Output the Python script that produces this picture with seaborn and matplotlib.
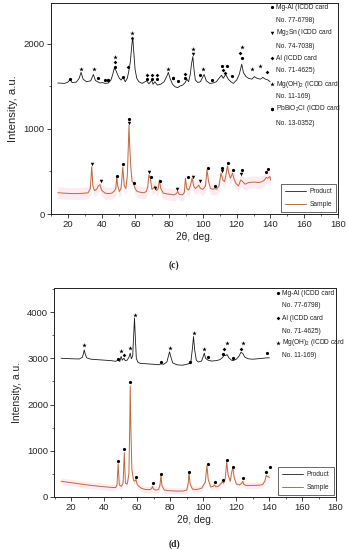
import numpy as np
import pandas as pd
import seaborn as sns
import matplotlib.pyplot as plt
from matplotlib.ticker import MultipleLocator

# ---- panel (c) curves: 2theta / intensity ----
prod_c_x = [14, 18, 20, 21.3, 22.5, 25, 26.7, 27.8, 29, 31, 33.5, 35.1, 36.3, 37.5, 39, 40.5, 42, 44,
            45.5, 46.5, 47.5, 48.5, 49.5, 50.5, 51.5, 52.7, 54, 55.2, 56.2, 57, 57.8, 58.4, 59, 59.8,
            60.8, 62, 64, 66.7, 68, 69.6, 70.5, 71.5, 73, 75, 77, 78.5, 79.5, 80.5, 82, 83.5, 85,
            86.5, 88, 89.5, 90.5, 91.5, 92.5, 93.2, 94, 94.7, 95.5, 97, 98.5, 100.7, 102, 104, 106,
            108, 109.5, 111, 112, 113.5, 115, 116.5, 118, 120, 121.5, 123, 124, 125.5, 127, 129,
            130.5, 132, 134, 135.5, 137, 138.5, 139.8]
prod_c_y = [1540, 1535, 1550, 1580, 1545, 1550, 1595, 1665, 1585, 1555, 1565, 1640, 1570, 1555, 1540,
            1545, 1535, 1540, 1575, 1635, 1715, 1685, 1635, 1595, 1575, 1605, 1555, 1595, 1690, 1790,
            1970, 2080, 1910, 1700, 1595, 1555, 1535, 1565, 1530, 1570, 1525, 1555, 1515, 1525, 1555,
            1615, 1665, 1595, 1525, 1495, 1485, 1505, 1515, 1545, 1585, 1555, 1640, 1760, 1850, 1700,
            1575, 1545, 1555, 1640, 1565, 1535, 1540, 1555, 1595, 1630, 1595, 1640, 1585, 1555, 1535,
            1575, 1640, 1760, 1660, 1615, 1595, 1585, 1615, 1595, 1585, 1605, 1585, 1575, 1555]

samp_c_x = [14, 18, 22, 26, 30, 32, 33.3, 34.1, 34.8, 35.8, 37, 38, 39, 40, 42, 44, 46, 47.5, 48.4,
            48.9, 49.5, 50.5, 51.5, 52.5, 53.4, 54.3, 55.2, 55.8, 56.2, 56.6, 57.3, 58, 58.8, 59.8,
            61, 63, 65, 66.5, 67.3, 68, 68.8, 69.8, 71, 71.6, 72.5, 73.5, 74.2, 75, 76.5, 79, 81, 83,
            84.3, 85, 86, 88, 89, 89.6, 90.4, 91.5, 92.5, 93.6, 94.5, 95.5, 96.8, 97.5, 98.5, 100,
            101.5, 102.4, 103.3, 104.5, 106, 107, 108, 109.5, 110.7, 111.8, 112.8, 114, 114.5, 115.3,
            116.3, 117.5, 118.3, 119.5, 121, 122.4, 123.5, 125, 127, 130, 133, 135, 136.5, 137.5,
            138.3, 139.7, 140]
samp_c_y = [250, 245, 240, 240, 245, 250, 300, 555, 330, 275, 290, 330, 345, 280, 245, 240, 245, 270,
            300, 440, 330, 265, 300, 550, 330, 300, 450, 800, 1045, 800, 550, 380, 370, 300, 265, 255,
            250, 265, 320, 460, 420, 290, 310, 330, 275, 300, 400, 300, 245, 235, 230, 225, 240, 265,
            230, 225, 255, 420, 300, 280, 330, 420, 330, 300, 320, 340, 300, 290, 330, 525, 380, 300,
            290, 300, 290, 330, 480, 400, 380, 500, 565, 480, 420, 480, 420, 360, 330, 400, 380, 350,
            370, 375, 370, 380, 400, 430, 420, 440, 400]

# ---- panel (d) curves ----
prod_d_x = [14, 20, 25, 26.8, 27.5, 28, 28.6, 29.5, 32, 36, 40, 44, 47, 48.7, 49.5, 50.3, 51, 52,
            52.8, 54, 55, 55.8, 56.5, 57.3, 57.9, 58.4, 58.9, 59.5, 60.5, 62, 66, 70, 73, 74.5, 76,
            78, 79, 79.6, 80.3, 81.5, 84, 87, 89, 91, 92.5, 93.4, 94.1, 94.8, 95.8, 97, 99, 99.8,
            100.6, 101.4, 102.8, 105, 108, 110, 111.5, 112.7, 113.5, 114.4, 115.5, 117, 118, 120,
            121.5, 122.8, 124, 125, 127, 130, 133, 136, 138.6, 140]
prod_d_y = [3000, 2990, 2985, 3020, 3100, 3180, 3090, 3010, 2980, 2970, 2960, 2950, 2935, 2960, 2930,
            3040, 2960, 3000, 2950, 2960, 3020, 3110, 2990, 3050, 3500, 3870, 3450, 3000, 2910, 2890,
            2880, 2870, 2860, 2880, 2870, 2920, 3060, 3140, 3040, 2900, 2860, 2850, 2860, 2880, 2920,
            3200, 3470, 3180, 2960, 2920, 2940, 3020, 3110, 3000, 2960, 2940, 2950, 2970, 3010, 3070,
            3060, 3080, 3010, 2960, 2950, 2980, 3040, 3130, 3100, 3030, 2990, 2980, 2990, 3000, 3010,
            3010]

samp_d_x = [14, 20, 25, 30, 35, 40, 45, 47, 47.8, 48.5, 49.2, 50.5, 51.5, 52.2, 52.9, 54, 55, 55.5,
            55.8, 56.2, 56.8, 57.8, 58.6, 59.3, 60, 62, 64, 66, 68, 68.8, 69.3, 69.8, 71, 73, 73.8,
            74.4, 75, 76.5, 80, 84, 88, 90, 90.9, 91.4, 92, 93.5, 96, 99, 101.2, 102.2, 103, 104.5,
            106, 106.8, 107.6, 109, 110.5, 111.3, 112.3, 113.3, 114.2, 115, 116.3, 117.3, 117.9,
            118.7, 120, 122, 123.3, 123.9, 124.6, 126, 130, 134, 136, 137.3, 138.1, 138.7, 139.4, 140]
samp_d_y = [340, 310, 285, 260, 240, 222, 205, 205, 260, 720, 260, 230, 300, 960, 300, 280, 500,
            1500, 2400, 1500, 600, 360, 340, 380, 270, 200, 170, 160, 160, 185, 230, 180, 150, 160,
            260, 470, 240, 150, 135, 128, 130, 150, 290, 540, 280, 170, 160, 190, 320, 680, 380, 220,
            230, 260, 220, 230, 280, 320, 300, 400, 760, 480, 340, 560, 630, 420, 280, 260, 300, 340,
            270, 250, 250, 255, 270, 350, 470, 440, 440, 420]

# ---- phase markers (2theta, height) ----
c_mgal = [(21.3, 1590), (38, 1596), (42, 1570), (52.9, 1615), (47.9, 1733), (66.7, 1590),
          (69.7, 1590), (72.6, 1590), (85.4, 1560), (89.4, 1600), (98.3, 1635), (105.2, 1580),
          (111.1, 1741), (114.1, 1741), (117.1, 1620), (123, 1831),
          (48.9, 451), (52.5, 585), (56.4, 1118), (59.4, 361), (69.3, 439), (74.7, 388),
          (91.4, 432), (102.8, 545), (107.2, 329), (111.1, 545), (115.1, 596), (118.0, 518),
          (123, 518), (137.4, 490), (138.8, 529)]
c_mg2sn = [(58.2, 2059), (94.3, 1880), (34.1, 588), (39.6, 388), (56.4, 1067), (68.1, 490),
           (71.6, 310), (84.8, 294), (94.3, 432), (98.3, 388), (111.1, 506), (122.4, 467)]
c_al = [(47.9, 1792), (55.8, 1725), (66.7, 1635), (69.7, 1635), (72.6, 1635), (89.4, 1650),
        (112.1, 1694), (113, 1655), (122, 1890), (137.8, 1670)]
c_mgoh = [(27.8, 1700), (35.3, 1705), (47.9, 1851), (58.2, 2126), (79.5, 1705), (94.3, 1940),
          (100.3, 1705), (123, 1961), (129, 1710), (133.9, 1741)]
c_pb = [(82.5, 1596), (44, 1570)]

d_mgal = [(48.7, 2984), (74.5, 2926), (91.7, 2926), (102.8, 3020), (111.9, 3092), (118, 2998),
          (138.6, 3120),
          (48.7, 778), (52.3, 1031), (55.8, 2480), (59.4, 425), (69.3, 296), (74.5, 497),
          (91.5, 548), (102.6, 706), (106.9, 331), (111.7, 367), (114.5, 800), (117.8, 656),
          (124.1, 404), (138.2, 533), (140.2, 656)]
d_al = [(52.1, 3070), (112.7, 3193), (122.8, 3193)]
d_mgoh = [(28.1, 3286), (50.3, 3163), (55.8, 3214), (58.4, 3935), (79.6, 3228), (94.1, 3553),
          (100.6, 3193), (114.4, 3337), (124.0, 3322)]

c_phase_text = ["Mg-Al (ICDD card", "No. 77-6798)", "Mg$_2$Sn (ICDD card", "No. 74-7038)",
                "Al (ICDD card", "No. 71-4625)", "Mg(OH)$_2$ (ICDD card", "No. 11-169)",
                "PbBiO$_2$Cl (ICDD card", "No. 13-0352)"]
d_phase_text = ["Mg-Al (ICDD card", "No. 77-6798)", "Al (ICDD card", "No. 71-4625)",
                "Mg(OH)$_2$ (ICDD card", "No. 11-169)"]

sns.set_theme(style="ticks")
plt.rcParams['font.family'] = ['Liberation Sans', 'DejaVu Sans']
plt.rcParams['mathtext.fontset'] = 'custom'
plt.rcParams['mathtext.rm'] = 'Liberation Sans'

SAMPLE_COL = "#bf6a3c"
MARKS = {"mgal": dict(marker="o", ms=2.3, mew=0), "mg2sn": dict(marker="v", ms=2.5, mew=0),
         "al": dict(marker="D", ms=1.9, mew=0), "mgoh": dict(marker="*", ms=3.4, mew=0),
         "pb": dict(marker=(6, 2, 0), ms=2.4, mew=0.5)}

fig = plt.figure(figsize=(3.48, 5.5), dpi=100)
ax_c = fig.add_axes([51 / 348, 1 - 214 / 550, 287 / 348, 211 / 550])
ax_d = fig.add_axes([54.5 / 348, 1 - 497 / 550, 281 / 348, 209 / 550])


def draw_panel(ax, px, py, sx, sy, phases, texts, ylim, ylab_size, txt_x, row_y):
    df_p = pd.DataFrame({"theta": px, "I": py})
    df_s = pd.DataFrame({"theta": sx, "I": sy})
    ax.fill_between(df_s.theta, df_s.I - 70, df_s.I + 70, color="#fdebf1", lw=0, zorder=0)
    sns.lineplot(data=df_p, x="theta", y="I", ax=ax, color="#1c1c1c", lw=0.6, label="Product",
                 sort=False, estimator=None)
    sns.lineplot(data=df_s, x="theta", y="I", ax=ax, color=SAMPLE_COL, lw=0.7, label="Sample",
                 sort=False, estimator=None)
    for key, pts in phases:
        xs, ys = zip(*pts)
        ax.plot(xs, ys, ls="none", color="black", mec="black", **MARKS[key])
    # phase key text in the upper right
    keys = [k for k, _ in phases]
    for i, t in enumerate(texts):
        ax.text(txt_x + 0.014, row_y[i], t, transform=ax.transAxes, fontsize=4.8,
                va="center", ha="left", color="#222222")
        if i % 2 == 0:
            ax.plot(txt_x, row_y[i], transform=ax.transAxes, ls="none", color="black",
                    mec="black", clip_on=False, **MARKS[keys[i // 2]])
    ax.set_xlim(10, 180)
    ax.set_ylim(*ylim)
    ax.xaxis.set_major_locator(MultipleLocator(20))
    ax.xaxis.set_minor_locator(MultipleLocator(10))
    ax.yaxis.set_major_locator(MultipleLocator(1000))
    ax.yaxis.set_minor_locator(MultipleLocator(500))
    ax.tick_params(which="major", direction="out", length=3, width=0.6, labelsize=6.8, pad=1.5)
    ax.tick_params(which="minor", direction="out", length=1.6, width=0.5)
    for s in ax.spines.values():
        s.set_linewidth(0.7)
        s.set_color("#222222")
    ax.set_xlabel("2θ, deg.", fontsize=7.3, labelpad=2)
    ax.set_ylabel("Intensity, a.u.", fontsize=ylab_size, labelpad=4)
    leg = ax.legend(loc="lower right", fontsize=4.8, handlelength=3.2, handletextpad=0.5,
                    labelspacing=0.9, frameon=True, fancybox=False, edgecolor="#222222",
                    borderpad=0.6, borderaxespad=0.3)
    leg.get_frame().set_linewidth(0.6)


draw_panel(ax_c, prod_c_x, prod_c_y, samp_c_x, samp_c_y,
           [("mgal", c_mgal), ("mg2sn", c_mg2sn), ("al", c_al), ("mgoh", c_mgoh), ("pb", c_pb)],
           c_phase_text, (0, 2480), 8.2, 0.77,
           [0.981, 0.919, 0.858, 0.796, 0.739, 0.678, 0.616, 0.555, 0.498, 0.431])
draw_panel(ax_d, prod_d_x, prod_d_y, samp_d_x, samp_d_y,
           [("mgal", d_mgal), ("al", d_al), ("mgoh", d_mgoh)],
           d_phase_text, (0, 4520), 7.5, 0.794,
           [0.976, 0.914, 0.856, 0.794, 0.737, 0.675])

fig.text(174 / 348, 1 - 265 / 550, "(c)", fontsize=7, fontweight="bold",
         family="Liberation Serif", ha="center", va="center")
fig.text(174 / 348, 1 - 544 / 550, "(d)", fontsize=7, fontweight="bold",
         family="Liberation Serif", ha="center", va="center")

fig.savefig("out.png", dpi=100)
